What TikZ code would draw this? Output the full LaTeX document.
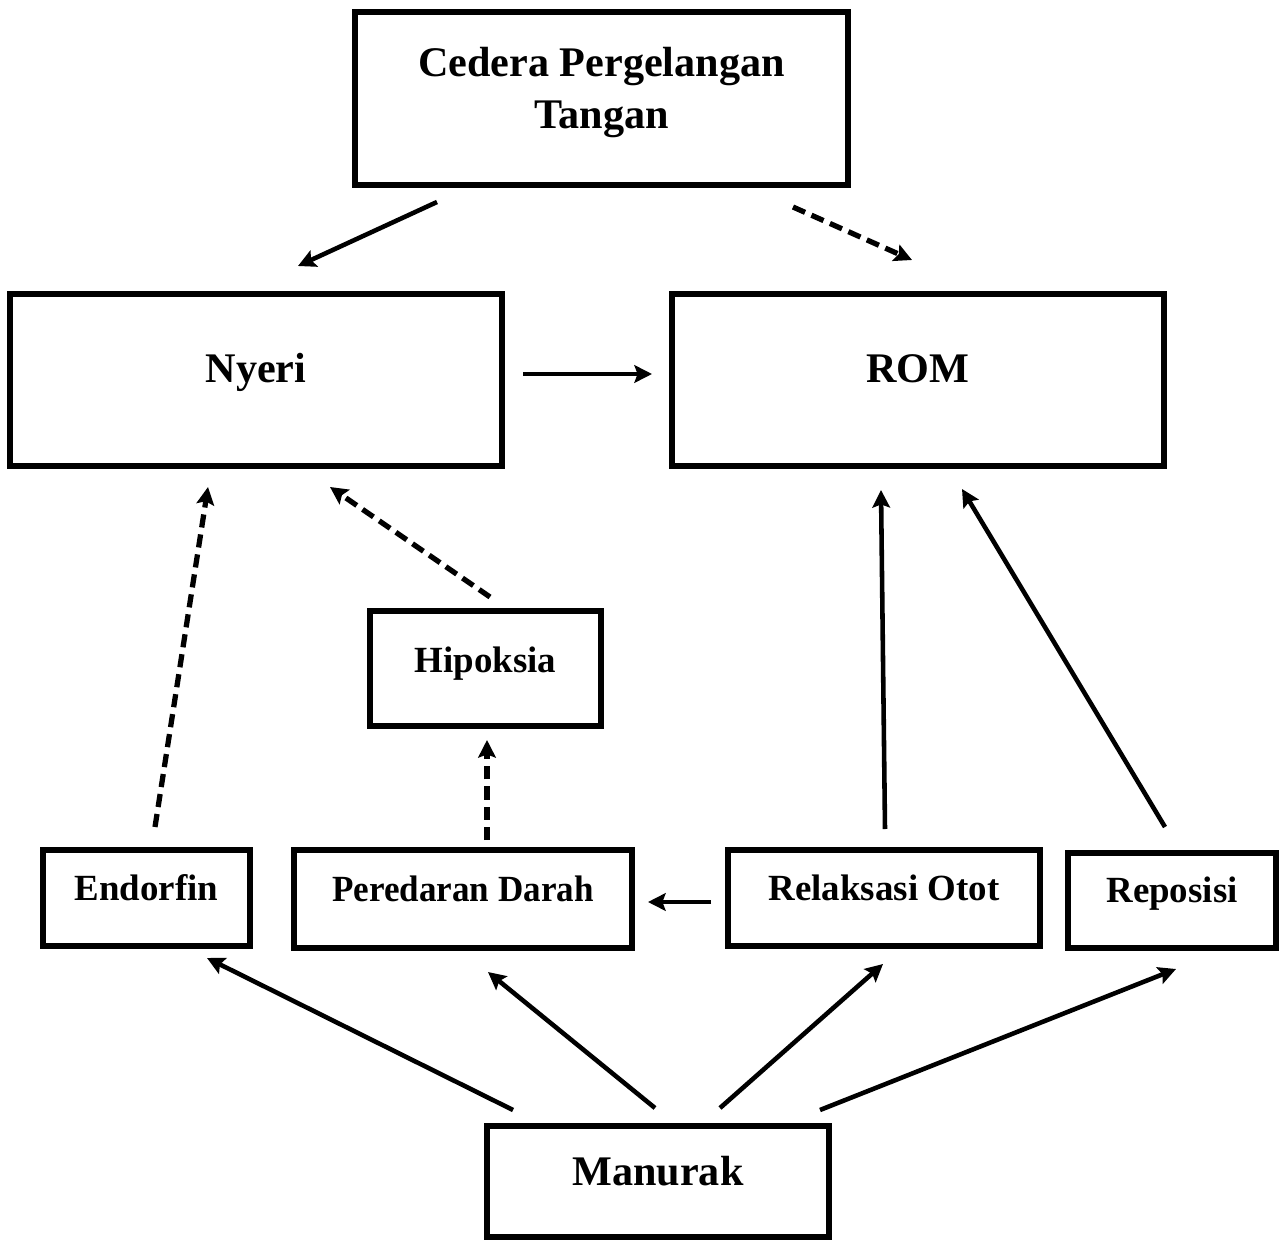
\documentclass[tikz,border=0pt]{standalone}
\usepackage{fontspec}
\setmainfont{Liberation Serif}
\usetikzlibrary{arrows.meta}
\tikzset{
  box/.style={draw=black, line width=3.2pt, inner sep=0pt, align=center, font=\bfseries},
  bigtxt/.style={font=\fontsize{24}{30}\selectfont\bfseries},
  smalltxt/.style={font=\fontsize{21}{25}\selectfont\bfseries, text height=15pt},
  conn/.style={line width=2.6pt, -{Stealth[length=10pt,width=10pt,inset=1.8pt]}},
  dconn/.style={conn, line width=3pt, dash pattern=on 7.5pt off 4pt},
}
\begin{document}
\begin{tikzpicture}
\useasboundingbox (0,0) rectangle (25.66,-24.8);
% boxes
\node[box, bigtxt, text depth=12pt, minimum width=9.86cm, minimum height=3.46cm] (cedera) at (12.03,-1.97) {Cedera Pergelangan\\Tangan};
\node[box, bigtxt, text height=16pt, text depth=12.6pt, minimum width=9.84cm, minimum height=3.44cm] (nyeri) at (5.12,-7.6) {Nyeri};
\node[box, bigtxt, text height=16pt, text depth=12.6pt, minimum width=9.84cm, minimum height=3.44cm] (rom) at (18.36,-7.6) {ROM};
\node[box, smalltxt, text depth=10pt, minimum width=4.62cm, minimum height=2.30cm] (hipoksia) at (9.71,-13.37) {Hipoksia};
\node[box, smalltxt, text depth=12.7pt, minimum width=4.14cm, minimum height=1.92cm] (endorfin) at (2.93,-17.96) {Endorfin};
\node[box, smalltxt, text depth=11.6pt, minimum width=6.76cm, minimum height=1.96cm] (peredaran) at (9.26,-17.98) {\scalebox{0.95}[1]{Peredaran Darah}};
\node[box, smalltxt, text depth=12.7pt, minimum width=6.24cm, minimum height=1.92cm] (relaksasi) at (17.68,-17.96) {Relaksasi Otot};
\node[box, smalltxt, text depth=12.2pt, minimum width=4.16cm, minimum height=1.90cm] (reposisi) at (23.44,-18.01) {Reposisi};
\node[box, bigtxt, text height=16pt, text depth=12pt, minimum width=6.84cm, minimum height=2.22cm] (manurak) at (13.16,-23.63) {Manurak};
% connector ends
\coordinate (c1s) at (8.74,-4.04);   \coordinate (c1e) at (5.96,-5.32);
\coordinate (c2s) at (15.86,-4.14);  \coordinate (c2e) at (18.24,-5.2);
\coordinate (c3s) at (10.46,-7.48);  \coordinate (c3e) at (13.04,-7.48);
\coordinate (c4s) at (3.1,-16.54);   \coordinate (c4e) at (4.16,-9.74);
\coordinate (c5s) at (9.8,-11.94);   \coordinate (c5e) at (6.6,-9.74);
\coordinate (c6s) at (9.74,-16.8);   \coordinate (c6e) at (9.74,-14.8);
\coordinate (c7s) at (14.22,-18.04); \coordinate (c7e) at (12.96,-18.04);
\coordinate (c8s) at (17.7,-16.58);  \coordinate (c8e) at (17.62,-9.8);
\coordinate (c9s) at (23.3,-16.54);  \coordinate (c9e) at (19.24,-9.78);
\coordinate (c10s) at (10.26,-22.2); \coordinate (c10e) at (4.14,-19.16);
\coordinate (c11s) at (13.1,-22.16); \coordinate (c11e) at (9.76,-19.44);
\coordinate (c12s) at (14.4,-22.16); \coordinate (c12e) at (17.66,-19.28);
\coordinate (c13s) at (16.4,-22.2);  \coordinate (c13e) at (23.52,-19.38);
% connectors
\draw[conn] (c1s) -- (c1e);
\draw[dconn] (c2s) -- (c2e);
\draw[conn] (c3s) -- (c3e);
\draw[dconn] (c4s) -- (c4e);
\draw[dconn] (c5s) -- (c5e);
\draw[dconn] (c6s) -- (c6e);
\draw[conn] (c7s) -- (c7e);
\draw[conn] (c8s) -- (c8e);
\draw[conn] (c9s) -- (c9e);
\draw[conn] (c10s) -- (c10e);
\draw[conn] (c11s) -- (c11e);
\draw[conn] (c12s) -- (c12e);
\draw[conn] (c13s) -- (c13e);
\end{tikzpicture}
\end{document}
